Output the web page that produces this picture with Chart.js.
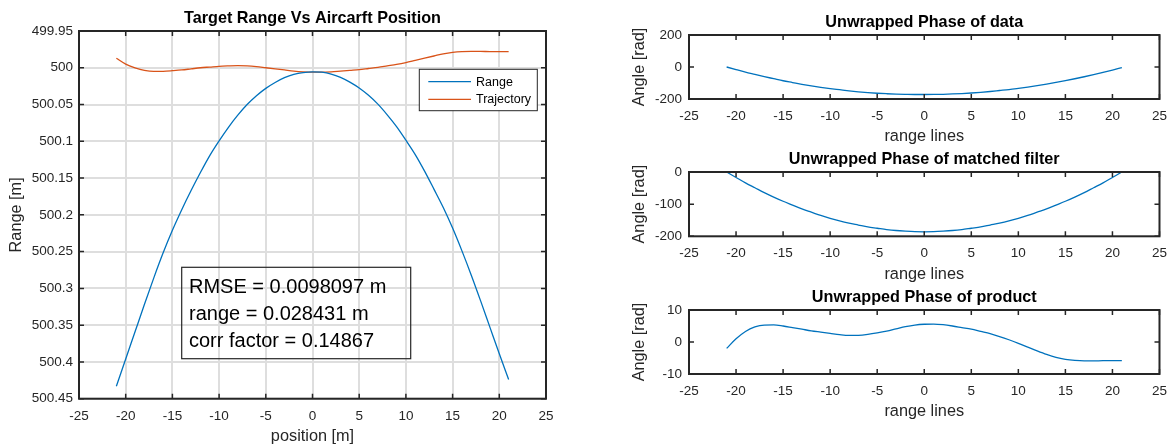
<!DOCTYPE html>
<html>
<head>
<meta charset="utf-8">
<title>Range and phase plots</title>
<script src="https://cdn.jsdelivr.net/npm/chart.js@4.4.1/dist/chart.umd.min.js"></script>
<style>
  html, body { margin: 0; padding: 0; background: #fff; }
  body { width: 1176px; height: 446px; position: relative; overflow: hidden; }
  .plot { position: absolute; }
</style>
</head>
<body>
<div class="plot" style="left:0;top:0;width:600px;height:446px"><canvas id="rangeChart"></canvas></div>
<div class="plot" style="left:600px;top:0;width:576px;height:146px"><canvas id="dataChart"></canvas></div>
<div class="plot" style="left:600px;top:146px;width:576px;height:138px"><canvas id="filterChart"></canvas></div>
<div class="plot" style="left:600px;top:284px;width:576px;height:162px"><canvas id="productChart"></canvas></div>

<script>
// aircraft position / range line index
const positions = [-21, -20, -19, -18, -17, -16, -15, -14, -13, -12, -11, -10, -9, -8, -7, -6, -5, -4, -3, -2, -1,
  0, 1, 2, 3, 4, 5, 6, 7, 8, 9, 10, 11, 12, 13, 14, 15, 16, 17, 18, 19, 20, 21];

const rangeValues = [500.433, 500.396, 500.359, 500.322, 500.286, 500.252, 500.221, 500.193, 500.167, 500.1425,
  500.1195, 500.0995, 500.081, 500.0645, 500.050, 500.038, 500.028, 500.020, 500.0135, 500.009, 500.0065,
  500.0055,
  500.006, 500.0085, 500.013, 500.0195, 500.0275, 500.0375, 500.0495, 500.064, 500.080, 500.0985, 500.118,
  500.1405, 500.165, 500.190, 500.218, 500.249, 500.282, 500.317, 500.353, 500.389, 500.424];

const trajectoryValues = [499.987, 499.995, 500.000, 500.0035, 500.005, 500.0048, 500.004, 500.003, 500.0015, 500.000,
  499.999, 499.998, 499.9975, 499.9972, 499.9975, 499.9985, 500.000, 500.0015, 500.003, 500.0045, 500.0055,
  500.006,
  500.006, 500.0055, 500.0045, 500.0035, 500.0025, 500.001, 499.9995, 499.9975, 499.9955, 499.993, 499.990,
  499.987, 499.984, 499.981, 499.979, 499.978, 499.9778, 499.9778, 499.978, 499.978, 499.978];

const dataPhase = [0, -16, -32, -46, -60, -73, -86, -97, -108, -118, -127, -135, -142, -149, -155, -160, -164, -167, -169.5, -171, -172,
  -172,
  -171.5, -170.5, -168.5, -166, -162.5, -158, -153, -147, -141, -133.5, -125.5, -116.5, -107, -96.5, -85.5, -73.5, -61, -47.5, -33.5, -19, -4];

const filterPhase = [0, -17, -34, -49, -64, -78, -91, -103, -115, -125, -135, -144, -152, -159, -165, -171, -175, -179, -182, -184, -185.5,
  -186,
  -185.5, -184, -182, -179, -175, -171, -165, -159, -152, -144, -135, -125, -115, -103, -91, -78, -64, -49, -34, -17, 0];

const productPhase = [-2.0, 1.0, 3.3, 4.7, 5.3, 5.35, 5.0, 4.5, 4.0, 3.5, 3.1, 2.7, 2.3, 2.05, 2.1, 2.4, 2.85, 3.4, 4.1, 4.8, 5.3,
  5.55,
  5.6, 5.4, 5.0, 4.5, 4.0, 3.3, 2.6, 1.7, 0.7, -0.4, -1.6, -2.8, -3.9, -4.8, -5.4, -5.75, -5.9, -5.9, -5.85, -5.85, -5.8];

const xTicks = [-25, -20, -15, -10, -5, 0, 5, 10, 15, 20, 25];
const rangeTicks = [499.95, 500, 500.05, 500.1, 500.15, 500.2, 500.25, 500.3, 500.35, 500.4, 500.45];
const dataTicks = [-200, 0, 200];
const filterTicks = [-200, -100, 0];
const productTicks = [-10, 0, 10];

const statsLines = ['RMSE = 0.0098097 m', 'range = 0.028431 m', 'corr factor = 0.14867'];

const FONT = '"Liberation Sans", Arial, Helvetica, sans-serif';
const INK = '#262626';
const BLUE = '#0072bd';
const ORANGE = '#d95319';

function toPoints(ys) {
  return positions.map((x, i) => ({ x: x, y: ys[i] }));
}

function useTicks(list) {
  return (scale) => { scale.ticks = list.map((v) => ({ value: v })); };
}

function lineSet(label, ys, color) {
  return {
    label: label,
    data: toPoints(ys),
    borderColor: color,
    backgroundColor: color,
    borderWidth: 1.3,
    pointRadius: 0,
    fill: false,
    cubicInterpolationMode: 'monotone'
  };
}

// matlab style box: frame on all four sides, tick marks pointing inwards
const boxAxes = {
  id: 'boxAxes',
  afterDatasetsDraw(chart) {
    const { ctx, chartArea: a } = chart;
    const x = chart.scales.x, y = chart.scales.y;
    const len = 5;
    ctx.save();
    ctx.strokeStyle = INK;
    ctx.lineWidth = 1.5;
    ctx.beginPath();
    x.ticks.forEach((t) => {
      const px = x.getPixelForValue(t.value);
      ctx.moveTo(px, a.bottom); ctx.lineTo(px, a.bottom - len);
      ctx.moveTo(px, a.top); ctx.lineTo(px, a.top + len);
    });
    y.ticks.forEach((t) => {
      const py = y.getPixelForValue(t.value);
      ctx.moveTo(a.left, py); ctx.lineTo(a.left + len, py);
      ctx.moveTo(a.right, py); ctx.lineTo(a.right - len, py);
    });
    ctx.stroke();
    ctx.lineWidth = 2;
    ctx.strokeRect(a.left, a.top, a.right - a.left, a.bottom - a.top);
    ctx.restore();
  }
};

// legend drawn inside the plot with a frame
const boxedLegend = {
  id: 'boxedLegend',
  afterDraw(chart) {
    const { ctx, chartArea: a } = chart;
    const left = a.right - 126.7, top = a.top + 38.3, w = 118, h = 41.4;
    ctx.save();
    ctx.fillStyle = '#fff';
    ctx.fillRect(left, top, w, h);
    ctx.strokeStyle = INK;
    ctx.lineWidth = 1;
    ctx.strokeRect(left, top, w, h);
    ctx.font = '12.5px ' + FONT;
    ctx.textBaseline = 'middle';
    chart.data.datasets.forEach((ds, i) => {
      const cy = top + 12.4 + i * 17.6;
      ctx.strokeStyle = ds.borderColor;
      ctx.lineWidth = 1.3;
      ctx.beginPath();
      ctx.moveTo(left + 9, cy);
      ctx.lineTo(left + 51.7, cy);
      ctx.stroke();
      ctx.fillStyle = '#000';
      ctx.fillText(ds.label, left + 56.7, cy + 0.5);
    });
    ctx.restore();
  }
};

// text box with the error figures
const statsBox = {
  id: 'statsBox',
  afterDraw(chart) {
    const { ctx, chartArea: a } = chart;
    const left = a.left + 102.7, top = a.top + 236.3, w = 229, h = 91.4;
    ctx.save();
    ctx.strokeStyle = INK;
    ctx.lineWidth = 1.2;
    ctx.strokeRect(left, top, w, h);
    ctx.fillStyle = '#000';
    ctx.font = '20px ' + FONT;
    ctx.textBaseline = 'alphabetic';
    statsLines.forEach((line, i) => {
      ctx.fillText(line, left + 7.3, top + 26 + i * 27);
    });
    ctx.restore();
  }
};

function titleOpts(text, padTop) {
  return {
    display: true,
    text: text,
    color: '#000',
    fullSize: false,
    font: { family: FONT, size: 16.2, weight: 'bold', lineHeight: 1.2 },
    padding: { top: padTop, bottom: 2.96 }
  };
}

function axisTitle(text, pad) {
  return { display: true, text: text, color: INK, font: { family: FONT, size: 16.3, lineHeight: 1.2 }, padding: pad };
}

const tickFont = { family: FONT, size: 13.5 };

// left: target range against aircraft position
new Chart(document.getElementById('rangeChart'), {
  type: 'line',
  data: {
    datasets: [
      lineSet('Range', rangeValues, BLUE),
      lineSet('Trajectory', trajectoryValues, ORANGE)
    ]
  },
  options: {
    responsive: true,
    maintainAspectRatio: false,
    animation: false,
    layout: { padding: { left: 0, right: 54, top: 0, bottom: 0 } },
    plugins: {
      legend: { display: false },
      tooltip: { enabled: false },
      title: titleOpts('Target Range Vs Aircarft Position', 8.6)
    },
    scales: {
      x: {
        type: 'linear', min: -25, max: 25,
        afterBuildTicks: useTicks(xTicks),
        afterFit: (s) => { s.height = 47.3; },
        ticks: { color: INK, font: tickFont, padding: 9, maxRotation: 0, callback: (v) => String(v) },
        grid: { color: '#dedede', lineWidth: 2, drawTicks: false },
        border: { display: false },
        title: axisTitle('position [m]', 0)
      },
      y: {
        type: 'linear', reverse: true, min: 499.95, max: 500.45,
        afterBuildTicks: useTicks(rangeTicks),
        afterFit: (s) => { s.width = 79; },
        ticks: { color: INK, font: tickFont, padding: 6, callback: (v) => String(+v.toFixed(2)) },
        grid: { color: '#dedede', lineWidth: 2, drawTicks: false },
        border: { display: false },
        title: axisTitle('Range [m]', { top: 6.7, bottom: 0 })
      }
    }
  },
  plugins: [boxAxes, boxedLegend, statsBox]
});

// right column: three unwrapped phase plots
function phaseChart(id, title, ys, yTicks, layout) {
  return new Chart(document.getElementById(id), {
    type: 'line',
    data: { datasets: [lineSet(title, ys, BLUE)] },
    options: {
      responsive: true,
      maintainAspectRatio: false,
      animation: false,
      layout: { padding: { left: 0, right: 11, top: 0, bottom: layout.bottom } },
      plugins: {
        legend: { display: false },
        tooltip: { enabled: false },
        title: titleOpts(title, layout.titleTop)
      },
      scales: {
        x: {
          type: 'linear', min: -25, max: 25,
          afterBuildTicks: useTicks(xTicks),
          afterFit: (s) => { s.height = layout.xHeight; },
          ticks: { color: INK, font: tickFont, padding: 9, maxRotation: 0, callback: (v) => String(v) },
          grid: { display: false, drawTicks: false },
          border: { display: false },
          title: axisTitle('range lines', 0)
        },
        y: {
          type: 'linear', min: yTicks[0], max: yTicks[yTicks.length - 1],
          afterBuildTicks: useTicks(yTicks),
          afterFit: (s) => { s.width = 89; },
          ticks: { color: INK, font: tickFont, padding: 7, callback: (v) => String(v) },
          grid: { display: false, drawTicks: false },
          border: { display: false },
          title: axisTitle('Angle [rad]', { top: 30.2, bottom: 0 })
        }
      }
    },
    plugins: [boxAxes]
  });
}

phaseChart('dataChart', 'Unwrapped Phase of data', dataPhase, dataTicks, { titleTop: 12.6, xHeight: 47, bottom: 0 });
phaseChart('filterChart', 'Unwrapped Phase of matched filter', filterPhase, filterTicks, { titleTop: 3.6, xHeight: 47.7, bottom: 0 });
phaseChart('productChart', 'Unwrapped Phase of product', productPhase, productTicks, { titleTop: 3.6, xHeight: 47.7, bottom: 24.3 });
</script>
</body>
</html>
